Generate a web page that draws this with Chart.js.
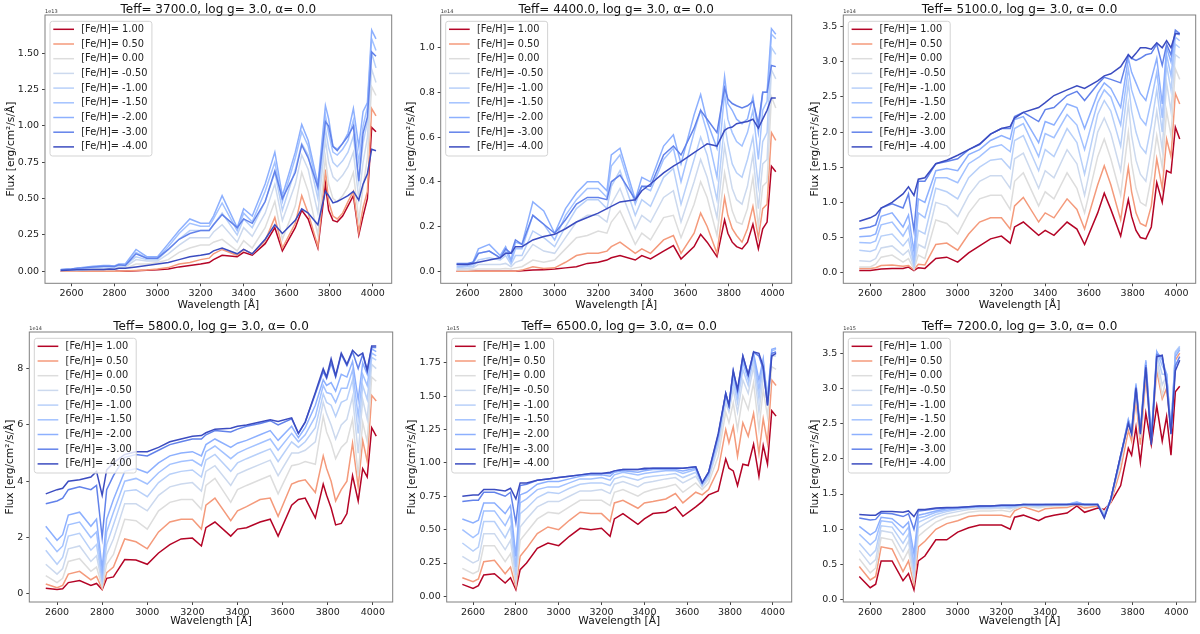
<!DOCTYPE html>
<html>
<head>
<meta charset="utf-8">
<script src="https://cdn.jsdelivr.net/npm/chart.js@4.4.1/dist/chart.umd.min.js"></script>
<style>
  html, body { margin: 0; padding: 0; background: #fff; }
  body { width: 1200px; height: 634px; position: relative; overflow: hidden; }
  canvas { position: absolute; }
</style>
</head>
<body>
<canvas id="p1" width="400" height="317" style="left:0;top:0"></canvas>
<canvas id="p2" width="400" height="317" style="left:400px;top:0"></canvas>
<canvas id="p3" width="400" height="317" style="left:800px;top:0"></canvas>
<canvas id="p4" width="400" height="317" style="left:0;top:317px"></canvas>
<canvas id="p5" width="400" height="317" style="left:400px;top:317px"></canvas>
<canvas id="p6" width="400" height="317" style="left:800px;top:317px"></canvas>
<script>
// wavelength grid [Å], shared by all panels
const wavelength = [2550, 2600, 2625, 2650, 2700, 2750, 2775, 2800, 2820, 2850,
  2900, 2950, 3000, 3050, 3100, 3150, 3200, 3240, 3260, 3300,
  3370, 3400, 3440, 3500, 3545, 3580, 3640, 3670, 3700, 3745,
  3780, 3795, 3815, 3835, 3860, 3885, 3910, 3935, 3955, 3975, 3995, 4015];

const fehLabels = ['[Fe/H]= 1.00', '[Fe/H]= 0.50', '[Fe/H]= 0.00', '[Fe/H]= -0.50', '[Fe/H]= -1.00',
  '[Fe/H]= -1.50', '[Fe/H]= -2.00', '[Fe/H]= -3.00', '[Fe/H]= -4.00'];
const fehColors = ['#b40426', '#f49a7b', '#dddddd', '#ccd9ee', '#b8d0f9', '#a3c2ff', '#8db0fe', '#6282ea', '#3b4cc0'];

const titles = ['Teff= 3700.0, log g= 3.0, α= 0.0', 'Teff= 4400.0, log g= 3.0, α= 0.0', 'Teff= 5100.0, log g= 3.0, α= 0.0',
  'Teff= 5800.0, log g= 3.0, α= 0.0', 'Teff= 6500.0, log g= 3.0, α= 0.0', 'Teff= 7200.0, log g= 3.0, α= 0.0'];
const offsetLabels = ['1e13', '1e14', '1e14', '1e14', '1e15', '1e15'];

const xTicks = [2600, 2800, 3000, 3200, 3400, 3600, 3800, 4000];
const yTicks = [
  [0, 0.25, 0.5, 0.75, 1.0, 1.25, 1.5],
  [0, 0.2, 0.4, 0.6, 0.8, 1.0],
  [0, 0.5, 1.0, 1.5, 2.0, 2.5, 3.0, 3.5],
  [0, 2, 4, 6, 8],
  [0, 0.25, 0.5, 0.75, 1.0, 1.25, 1.5, 1.75],
  [0, 0.5, 1.0, 1.5, 2.0, 2.5, 3.0, 3.5]
];
const yDecimals = [2, 1, 1, 0, 2, 1];
const yLimits = [[-0.083, 1.764], [-0.054, 1.146], [-0.152, 3.666], [-0.29, 9.3], [-0.042, 1.98], [-0.033, 3.8]];

// flux in units of the offset label, one row per [Fe/H] (1.00 ... -4.00)
const flux3700 = [
  [0,0,0,0,0,0,0,0,0,0, .004,.006,.01,.015,.03,.04,.05,.06,.08,.11, .10,.13,.11,.19,.30,.14,.30,.42,.36,.16, .60,.42,.35,.34,.38,.45,.52,.25,.38,.50,.99,.96],
  [0,0,0,0,0,0,0,0,0,.002, .005,.008,.015,.025,.05,.06,.08,.09,.12,.15, .11,.15,.12,.21,.37,.16,.33,.52,.40,.17, .70,.48,.38,.36,.40,.48,.55,.27,.44,.55,1.12,1.07],
  [.005,.005,.005,.006,.01,.01,.012,.01,.02,.02, .05,.05,.06,.08,.13,.16,.18,.18,.20,.22, .14,.21,.16,.30,.48,.22,.45,.68,.55,.25, .78,.60,.50,.48,.52,.58,.68,.35,.58,.78,1.27,1.21],
  [.006,.008,.01,.012,.02,.02,.022,.02,.03,.03, .08,.07,.07,.12,.18,.23,.23,.23,.27,.32, .20,.30,.24,.40,.60,.35,.60,.80,.70,.40, .90,.75,.65,.62,.66,.72,.82,.50,.75,.92,1.39,1.30],
  [.008,.01,.014,.015,.025,.03,.03,.028,.04,.04, .10,.08,.08,.15,.22,.28,.28,.28,.32,.40, .25,.36,.30,.48,.68,.42,.70,.88,.80,.50, .98,.85,.75,.72,.76,.82,.93,.62,.88,1.03,1.50,1.40],
  [.01,.014,.018,.02,.03,.035,.035,.033,.045,.045, .13,.09,.09,.17,.26,.33,.31,.31,.36,.47, .28,.40,.34,.55,.75,.48,.78,.96,.86,.56, 1.07,.95,.82,.80,.84,.90,1.04,.75,1.0,1.13,1.60,1.52],
  [.012,.016,.02,.025,.035,.04,.04,.036,.05,.05, .15,.10,.10,.19,.28,.36,.33,.33,.38,.52, .30,.43,.38,.60,.82,.52,.82,1.01,.90,.60, 1.14,1.05,.86,.84,.88,.95,1.12,.86,1.10,1.16,1.66,1.60],
  [.01,.015,.02,.022,.03,.035,.035,.033,.045,.04, .12,.09,.09,.15,.22,.26,.28,.28,.32,.39, .30,.36,.33,.48,.69,.50,.68,.87,.78,.58, 1.03,1.00,.86,.83,.88,.93,1.0,.62,.95,1.06,1.51,1.48],
  [.005,.008,.01,.01,.012,.012,.015,.014,.02,.02, .03,.04,.05,.06,.08,.10,.11,.12,.14,.16, .12,.15,.12,.22,.32,.26,.35,.43,.40,.32, .55,.52,.47,.48,.50,.52,.55,.49,.60,.67,.84,.83]
];
const flux4400 = [
  [0,0,0,0,0,0,0,0,0,.002, .005,.007,.01,.015,.02,.035,.04,.05,.06,.07, .05,.07,.055,.09,.115,.055,.11,.165,.13,.065, .23,.17,.13,.11,.10,.13,.21,.10,.19,.22,.47,.445],
  [0,0,0,0,0,0,0,0,0,.005, .02,.012,.015,.04,.07,.08,.08,.09,.11,.13, .08,.10,.08,.14,.16,.08,.17,.26,.20,.08, .33,.25,.19,.16,.13,.19,.29,.15,.28,.30,.62,.585],
  [.005,.006,.008,.01,.01,.01,.012,.01,.015,.02, .05,.04,.05,.10,.15,.16,.18,.17,.22,.27, .12,.17,.14,.24,.25,.15,.30,.40,.33,.16, .44,.36,.27,.22,.21,.28,.42,.20,.38,.40,.78,.73],
  [.01,.012,.015,.03,.03,.03,.035,.02,.04,.05, .12,.09,.08,.15,.22,.25,.25,.22,.30,.37, .19,.25,.22,.33,.36,.22,.40,.50,.42,.24, .56,.47,.37,.32,.30,.38,.52,.28,.48,.50,.90,.86],
  [.015,.02,.02,.05,.06,.05,.07,.03,.07,.07, .18,.15,.11,.20,.28,.32,.32,.28,.38,.45, .25,.32,.29,.42,.46,.30,.50,.60,.52,.32, .66,.57,.48,.44,.42,.50,.60,.38,.58,.62,1.00,.97],
  [.02,.025,.03,.08,.09,.06,.09,.04,.10,.10, .25,.21,.14,.25,.32,.37,.37,.33,.47,.52, .30,.38,.36,.50,.55,.40,.62,.72,.62,.42, .80,.68,.62,.58,.56,.62,.72,.50,.72,.76,1.06,1.04],
  [.03,.03,.04,.10,.12,.07,.11,.05,.13,.12, .31,.27,.17,.28,.35,.40,.40,.36,.52,.55, .32,.42,.40,.56,.61,.48,.70,.79,.67,.55, .87,.75,.72,.68,.66,.68,.78,.62,.80,.80,1.085,1.06],
  [.035,.035,.04,.08,.09,.06,.10,.08,.14,.12, .25,.21,.17,.23,.30,.33,.33,.32,.40,.43, .32,.38,.38,.52,.56,.52,.64,.72,.68,.62, .82,.77,.75,.74,.73,.74,.76,.66,.80,.80,.92,.915],
  [.03,.03,.035,.04,.05,.06,.08,.08,.11,.11, .14,.155,.165,.19,.22,.24,.26,.28,.29,.31, .32,.36,.39,.44,.47,.49,.53,.55,.57,.56, .63,.64,.645,.66,.665,.67,.68,.64,.68,.72,.775,.775]
];
const flux5100 = [
  [.03,.03,.04,.05,.06,.06,.08,.03,.07,.06, .20,.22,.15,.28,.38,.48,.52,.42,.65,.72, .53,.60,.53,.72,.62,.40,.85,1.13,.90,.52, 1.04,.80,.60,.50,.48,.65,1.28,1.0,1.45,1.42,2.07,1.90],
  [.06,.06,.07,.10,.11,.09,.10,.04,.12,.11, .40,.42,.32,.55,.72,.78,.78,.62,.95,1.07, .72,.85,.78,1.05,.90,.62,1.25,1.52,1.25,.75, 1.50,1.15,.85,.70,.66,.95,1.62,1.20,1.90,1.65,2.55,2.40],
  [.08,.08,.12,.22,.25,.15,.20,.05,.25,.20, .75,.70,.55,.85,1.05,1.10,1.10,.90,1.30,1.42, .95,1.15,1.05,1.42,1.20,.85,1.65,1.90,1.62,1.10, 2.00,1.55,1.20,1.00,.95,1.35,1.95,1.50,2.30,1.95,2.90,2.75],
  [.17,.16,.20,.35,.38,.25,.32,.07,.40,.35, 1.00,.95,.80,1.10,1.30,1.38,1.38,1.20,1.62,1.70, 1.20,1.45,1.35,1.75,1.55,1.10,2.00,2.20,1.98,1.45, 2.40,1.95,1.60,1.40,1.30,1.75,2.30,1.75,2.70,2.30,3.10,3.05],
  [.32,.30,.33,.52,.55,.38,.48,.10,.60,.55, 1.20,1.15,1.05,1.35,1.50,1.60,1.62,1.48,1.88,1.95, 1.45,1.75,1.65,2.05,1.85,1.40,2.25,2.45,2.30,1.80, 2.70,2.30,2.00,1.80,1.70,2.10,2.60,2.00,2.95,2.60,3.25,3.20],
  [.43,.42,.45,.68,.72,.52,.66,.15,.85,.78, 1.35,1.35,1.28,1.55,1.65,1.78,1.82,1.72,2.05,2.12, 1.65,1.98,1.92,2.25,2.10,1.75,2.42,2.60,2.50,2.10, 2.90,2.60,2.40,2.20,2.10,2.45,2.85,2.20,3.10,2.80,3.35,3.30],
  [.51,.52,.55,.80,.85,.65,.82,.30,1.05,1.00, 1.45,1.48,1.45,1.68,1.75,1.88,1.95,1.90,2.18,2.22, 1.85,2.15,2.10,2.40,2.35,2.05,2.55,2.70,2.62,2.35, 3.05,2.85,2.70,2.55,2.45,2.75,3.05,2.40,3.20,3.00,3.42,3.38],
  [.62,.65,.68,.92,.98,.92,1.12,.60,1.30,1.30, 1.55,1.58,1.62,1.75,1.82,1.97,2.05,2.05,2.22,2.28, 2.15,2.32,2.35,2.52,2.58,2.45,2.68,2.78,2.75,2.70, 3.10,3.05,3.02,3.05,3.10,3.12,3.25,2.95,3.25,3.10,3.45,3.40],
  [.73,.78,.82,.92,1.0,1.12,1.22,1.10,1.33,1.35, 1.55,1.60,1.67,1.75,1.83,1.97,2.05,2.08,2.20,2.28, 2.35,2.42,2.52,2.60,2.66,2.62,2.73,2.80,2.83,2.93, 3.10,3.05,3.12,3.20,3.20,3.18,3.27,3.20,3.30,3.20,3.40,3.40]
];
const flux5800 = [
  [.20,.15,.18,.40,.47,.30,.37,.15,.55,.60, 1.22,1.20,1.05,1.45,1.75,1.95,1.98,1.70,2.35,2.55, 2.05,2.30,2.35,2.55,2.65,2.05,3.15,3.35,3.40,2.70, 3.90,3.50,3.05,2.45,2.50,2.85,4.20,3.30,4.45,4.15,5.90,5.60],
  [.35,.22,.30,.70,.80,.50,.62,.18,.75,.95, 1.95,1.85,1.60,2.20,2.55,2.65,2.65,2.30,3.15,3.40, 2.60,2.95,3.10,3.35,3.40,2.75,3.90,4.00,4.05,3.60, 4.90,4.45,4.00,3.30,3.70,4.00,5.35,3.80,5.45,4.70,7.05,6.85],
  [.65,.40,.55,1.15,1.25,.80,.95,.25,1.05,1.40, 2.65,2.60,2.30,2.95,3.25,3.35,3.35,3.00,3.85,4.10, 3.25,3.70,3.85,4.05,4.20,3.55,4.55,4.60,4.70,4.60, 6.30,5.75,5.35,4.80,5.20,5.40,6.20,4.20,6.10,5.40,7.70,7.55],
  [1.05,.70,.90,1.60,1.70,1.15,1.35,.35,1.40,1.95, 3.20,3.20,2.95,3.50,3.80,3.90,3.95,3.65,4.35,4.55, 3.85,4.25,4.40,4.60,4.75,4.20,5.00,5.00,5.10,5.40, 6.80,6.40,6.00,5.50,6.00,6.20,7.00,5.00,6.90,6.20,8.15,8.00],
  [1.55,1.05,1.30,2.05,2.15,1.55,1.75,.45,1.75,2.45, 3.65,3.70,3.45,3.95,4.25,4.35,4.40,4.15,4.75,4.95, 4.35,4.65,4.80,5.00,5.15,4.70,5.40,5.20,5.40,5.90, 7.10,6.80,6.70,6.30,6.80,6.90,7.60,5.70,7.40,6.90,8.40,8.30],
  [2.00,1.50,1.70,2.45,2.55,2.00,2.20,.60,2.20,2.90, 4.00,4.10,3.90,4.30,4.60,4.70,4.75,4.55,5.05,5.25, 4.80,5.00,5.15,5.35,5.50,5.10,5.70,5.40,5.65,6.30, 7.40,7.15,7.10,6.80,7.30,7.30,7.95,6.30,7.80,7.40,8.55,8.45],
  [2.40,1.90,2.10,2.80,2.90,2.40,2.65,.90,2.65,3.35, 4.35,4.45,4.30,4.65,4.90,5.00,5.05,4.90,5.30,5.50, 5.20,5.35,5.45,5.65,5.80,5.45,5.95,5.55,5.90,6.70, 7.60,7.40,7.50,7.20,7.80,7.70,8.25,6.90,8.20,7.80,8.70,8.60],
  [3.20,3.30,3.40,3.70,3.80,3.70,3.85,2.00,3.70,4.20, 4.85,4.95,4.90,5.10,5.30,5.40,5.50,5.50,5.65,5.80, 5.75,5.85,5.95,6.05,6.15,6.00,6.22,5.70,6.10,7.10, 7.90,7.65,8.20,7.70,8.50,8.10,8.60,8.00,8.50,7.90,8.75,8.75],
  [3.55,3.70,3.75,4.00,4.05,4.15,4.35,3.50,4.40,4.65, 4.95,5.05,5.05,5.20,5.40,5.50,5.60,5.62,5.72,5.85, 5.88,5.95,6.00,6.10,6.18,6.12,6.25,5.70,6.10,7.15, 8.00,7.70,8.35,7.75,8.55,8.15,8.65,8.45,8.55,7.95,8.80,8.80]
];
const flux6500 = [
  [.09,.06,.08,.16,.17,.10,.14,.05,.20,.25, .36,.40,.38,.45,.51,.50,.51,.45,.58,.62, .54,.58,.62,.63,.67,.60,.67,.71,.76,.79, 1.03,.96,.94,.83,.99,.98,1.14,.90,1.13,.99,1.39,1.35],
  [.14,.11,.13,.26,.27,.17,.22,.07,.30,.36, .47,.52,.50,.57,.63,.62,.62,.56,.70,.72, .66,.70,.71,.73,.77,.70,.78,.76,.80,.95, 1.25,1.15,1.27,1.05,1.30,1.20,1.37,1.07,1.33,1.15,1.62,1.58],
  [.21,.17,.19,.38,.38,.26,.32,.10,.42,.48, .58,.63,.62,.67,.72,.72,.72,.68,.78,.80, .75,.78,.80,.82,.84,.78,.85,.80,.85,1.05, 1.38,1.30,1.45,1.25,1.50,1.40,1.60,1.25,1.55,1.35,1.72,1.70],
  [.30,.25,.27,.47,.47,.35,.42,.13,.52,.58, .67,.71,.71,.75,.79,.79,.80,.77,.84,.86, .82,.85,.86,.88,.89,.85,.90,.82,.88,1.12, 1.45,1.38,1.55,1.38,1.62,1.52,1.72,1.38,1.65,1.48,1.80,1.80],
  [.40,.34,.37,.56,.56,.44,.52,.16,.62,.66, .74,.78,.77,.81,.84,.85,.85,.83,.88,.90, .87,.89,.90,.91,.92,.89,.93,.83,.90,1.16, 1.49,1.41,1.60,1.45,1.70,1.58,1.78,1.48,1.72,1.52,1.82,1.83],
  [.50,.44,.47,.64,.64,.53,.61,.22,.70,.73, .80,.82,.82,.85,.88,.88,.89,.87,.91,.93, .91,.92,.93,.94,.94,.92,.95,.84,.91,1.18, 1.51,1.42,1.65,1.50,1.75,1.62,1.81,1.55,1.76,1.48,1.84,1.85],
  [.58,.55,.57,.70,.70,.62,.68,.30,.76,.78, .84,.86,.86,.88,.90,.91,.91,.90,.93,.94, .93,.94,.95,.95,.95,.94,.96,.85,.92,1.20, 1.52,1.43,1.68,1.53,1.78,1.65,1.82,1.62,1.78,1.45,1.85,1.86],
  [.71,.72,.72,.78,.78,.75,.78,.55,.83,.84, .87,.88,.89,.90,.91,.92,.92,.92,.94,.95, .95,.95,.96,.96,.96,.96,.97,.85,.93,1.21, 1.52,1.43,1.69,1.54,1.80,1.66,1.83,1.80,1.70,1.43,1.82,1.83],
  [.75,.76,.76,.80,.80,.79,.81,.73,.85,.85, .87,.88,.89,.90,.91,.92,.92,.93,.94,.95, .95,.96,.96,.96,.96,.96,.97,.85,.93,1.22, 1.52,1.43,1.69,1.55,1.80,1.66,1.83,1.82,1.72,1.43,1.80,1.82]
];
const flux7200 = [
  [.33,.17,.22,.55,.55,.27,.37,.14,.55,.62, .85,.85,.96,1.02,1.06,1.06,1.06,1.00,1.17,1.20, 1.12,1.17,1.20,1.23,1.33,1.24,1.30,1.28,1.38,1.62, 2.15,2.05,2.45,1.95,2.65,2.20,2.75,2.25,2.60,2.05,2.95,3.03],
  [.47,.28,.33,.75,.72,.40,.55,.22,.75,.83, 1.00,1.08,1.12,1.18,1.20,1.20,1.20,1.17,1.26,1.32, 1.25,1.29,1.30,1.31,1.35,1.30,1.33,1.25,1.38,1.85, 2.40,2.25,2.85,2.20,3.15,2.30,3.25,2.85,3.00,2.40,3.40,3.50],
  [.58,.38,.45,.88,.85,.55,.70,.28,.90,.98, 1.10,1.17,1.20,1.24,1.26,1.26,1.27,1.25,1.29,1.33, 1.30,1.32,1.33,1.33,1.36,1.33,1.35,1.24,1.40,1.95, 2.50,2.35,2.95,2.30,3.30,2.30,3.35,2.90,3.15,2.35,3.45,3.55],
  [.70,.50,.57,.98,.95,.68,.83,.33,1.02,1.08, 1.17,1.22,1.25,1.28,1.29,1.29,1.30,1.29,1.31,1.34, 1.32,1.33,1.34,1.34,1.37,1.34,1.35,1.22,1.42,2.00, 2.52,2.37,3.00,2.33,3.33,2.28,3.42,3.05,3.18,2.37,3.50,3.58],
  [.80,.62,.70,1.05,1.03,.80,.93,.40,1.10,1.14, 1.21,1.25,1.28,1.30,1.31,1.31,1.32,1.31,1.32,1.34, 1.33,1.34,1.34,1.35,1.38,1.35,1.35,1.20,1.43,2.02, 2.55,2.40,3.05,2.36,3.38,2.28,3.48,3.20,3.20,2.38,3.52,3.60],
  [.93,.78,.85,1.12,1.10,.92,1.03,.50,1.16,1.18, 1.24,1.27,1.29,1.31,1.32,1.32,1.33,1.32,1.33,1.35, 1.34,1.34,1.35,1.35,1.39,1.35,1.35,1.19,1.43,2.03, 2.56,2.40,3.07,2.38,3.40,2.29,3.52,3.32,3.20,2.39,3.50,3.58],
  [1.04,.92,.97,1.17,1.15,1.02,1.10,.65,1.20,1.22, 1.26,1.29,1.30,1.31,1.32,1.33,1.33,1.33,1.33,1.35, 1.34,1.35,1.35,1.35,1.38,1.35,1.35,1.18,1.43,2.04, 2.55,2.40,3.05,2.40,3.38,2.30,3.52,3.40,3.20,2.40,3.45,3.55],
  [1.16,1.13,1.14,1.23,1.22,1.18,1.22,1.00,1.26,1.27, 1.29,1.30,1.31,1.32,1.33,1.33,1.34,1.34,1.34,1.35, 1.35,1.35,1.35,1.35,1.36,1.35,1.35,1.17,1.43,2.05, 2.52,2.37,3.02,2.37,3.33,2.24,3.48,3.45,3.10,2.36,3.32,3.45],
  [1.21,1.20,1.20,1.25,1.25,1.24,1.26,1.18,1.28,1.28, 1.30,1.31,1.31,1.32,1.33,1.33,1.34,1.34,1.34,1.35, 1.35,1.35,1.35,1.35,1.35,1.35,1.35,1.16,1.43,2.05, 2.50,2.35,3.00,2.35,3.30,2.20,3.45,3.47,3.05,2.35,3.25,3.40]
];
const allFlux = [flux3700, flux4400, flux5100, flux5800, flux6500, flux7200];

// where each plot box sits inside its 400x317 canvas
const boxes = [
  { yw: 45.0, right: 8.3, xh: 33.7, ytPad: 4.6, xtPad: 5.8 },
  { yw: 40.7, right: 8.3, xh: 33.7, ytPad: 5.1, xtPad: 5.8 },
  { yw: 43.3, right: 4.3, xh: 33.7, ytPad: 8.6, xtPad: 5.8 },
  { yw: 29.3, right: 7.3, xh: 32.0, ytPad: 4.1, xtPad: 6.4 },
  { yw: 46.7, right: 8.3, xh: 32.0, ytPad: 5.6, xtPad: 6.4 },
  { yw: 43.3, right: 4.3, xh: 32.0, ytPad: 8.6, xtPad: 6.4 }
];

const FONT = '"DejaVu Sans", "Liberation Sans", sans-serif';
Chart.defaults.font.family = FONT;
Chart.defaults.color = '#222';

// axes frame, legend box, title and offset text
const panelDecor = {
  id: 'panelDecor',
  afterDatasetsDraw(chart) {
    const { ctx, chartArea: a } = chart;
    ctx.save();
    ctx.strokeStyle = '#808080';
    ctx.lineWidth = 1;
    ctx.strokeRect(a.left, a.top, a.right - a.left, a.bottom - a.top);

    const sets = chart.data.datasets;
    ctx.font = '9.8px ' + FONT;
    const textW = Math.max(...sets.map(d => ctx.measureText(d.label).width));
    const x0 = a.left + 5, y0 = a.top + 6.3;
    const w = 31.3 + textW + 4.5, h = 134.7;
    ctx.beginPath();
    if (ctx.roundRect) ctx.roundRect(x0, y0, w, h, 2.5); else ctx.rect(x0, y0, w, h);
    ctx.fillStyle = 'rgba(255,255,255,0.8)';
    ctx.fill();
    ctx.strokeStyle = '#d3d3d3';
    ctx.stroke();
    ctx.textBaseline = 'middle';
    ctx.textAlign = 'left';
    sets.forEach((d, i) => {
      const y = y0 + 8 + i * 14.7;
      ctx.strokeStyle = d.borderColor;
      ctx.lineWidth = 1.5;
      ctx.beginPath();
      ctx.moveTo(x0 + 3.3, y);
      ctx.lineTo(x0 + 24, y);
      ctx.stroke();
      ctx.fillStyle = '#222';
      ctx.fillText(d.label, x0 + 31.3, y);
    });
    ctx.restore();
  },
  afterDraw(chart, args, opts) {
    const { ctx, chartArea: a } = chart;
    ctx.save();
    ctx.fillStyle = '#111';
    ctx.textAlign = 'center';
    ctx.textBaseline = 'alphabetic';
    ctx.font = '12px ' + FONT;
    ctx.fillText(opts.title, (a.left + a.right) / 2, a.top - 2.5);
    ctx.textAlign = 'left';
    ctx.font = '5px ' + FONT;
    ctx.fillStyle = '#333';
    ctx.fillText(opts.offset, a.left, a.top - 2);
    ctx.restore();
  }
};

allFlux.forEach((rows, p) => {
  const b = boxes[p];
  const datasets = rows.map((vals, i) => ({
    label: fehLabels[i],
    data: wavelength.map((wl, k) => ({ x: wl, y: vals[k] })),
    borderColor: fehColors[i],
    borderWidth: 1.5,
    pointRadius: 0,
    tension: 0,
    fill: false,
    order: rows.length - i
  }));
  new Chart(document.getElementById('p' + (p + 1)), {
    type: 'line',
    data: { datasets },
    plugins: [panelDecor],
    options: {
      responsive: false,
      animation: false,
      events: [],
      layout: { padding: { top: 15, right: b.right, left: 0, bottom: 0 } },
      scales: {
        x: {
          type: 'linear',
          min: 2477,
          max: 4088,
          afterFit: s => { s.height = b.xh; },
          afterBuildTicks: s => { s.ticks = xTicks.map(v => ({ value: v })); },
          grid: { drawOnChartArea: false, drawTicks: true, tickLength: 3, color: '#444' },
          border: { display: false },
          ticks: { autoSkip: false, maxRotation: 0, padding: 2, font: { size: 9.5 }, color: '#222',
            callback: v => String(v) },
          title: { display: true, text: 'Wavelength [Å]', font: { size: 10.6 }, color: '#111',
            padding: { top: 0, bottom: b.xtPad } }
        },
        y: {
          min: yLimits[p][0],
          max: yLimits[p][1],
          afterFit: s => { s.width = b.yw; },
          afterBuildTicks: s => { s.ticks = yTicks[p].map(v => ({ value: v })); },
          grid: { drawOnChartArea: false, drawTicks: true, tickLength: 3, color: '#444' },
          border: { display: false },
          ticks: { autoSkip: false, padding: 3, font: { size: 9.5 }, color: '#222',
            callback: v => Number(v).toFixed(yDecimals[p]) },
          title: { display: true, text: 'Flux [erg/cm²/s/Å]', font: { size: 10.6 }, color: '#111',
            padding: { top: b.ytPad, bottom: 0 } }
        }
      },
      plugins: {
        legend: { display: false },
        tooltip: { enabled: false },
        panelDecor: { title: titles[p], offset: offsetLabels[p] }
      }
    }
  });
});
</script>
</body>
</html>
